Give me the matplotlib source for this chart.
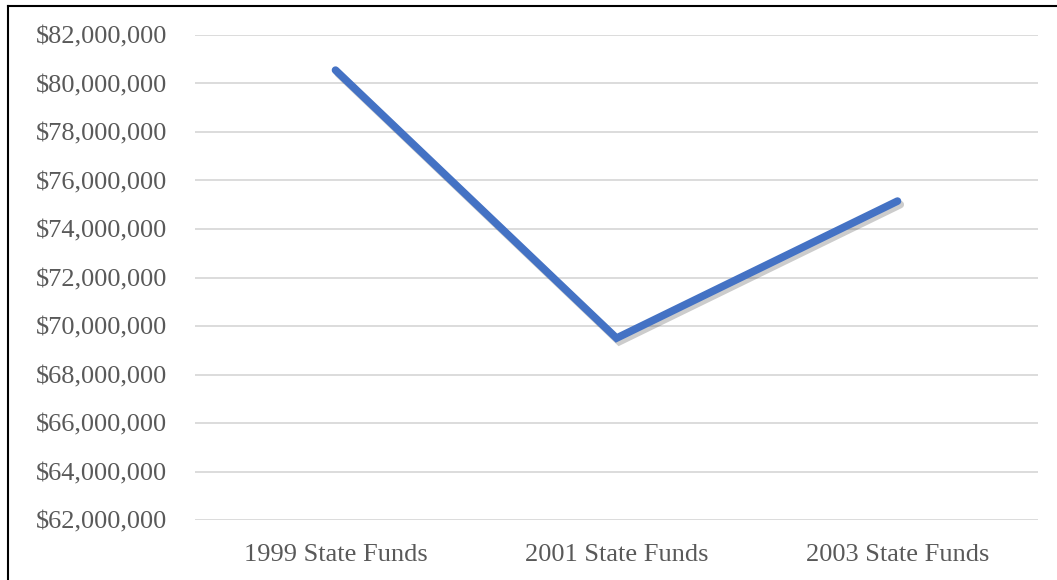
import matplotlib
matplotlib.use("Agg")
import matplotlib.pyplot as plt
import matplotlib.patheffects as pe
from matplotlib.ticker import FuncFormatter, MultipleLocator
from matplotlib.lines import Line2D

# data
categories = ['1999 State Funds', '2001 State Funds', '2003 State Funds']
funds = [80550000, 69500000, 75150000]

plt.rcParams['font.family'] = ['Liberation Serif', 'DejaVu Serif']

fig = plt.figure(figsize=(10.57, 5.8), dpi=100)
ax = fig.add_axes([0.1845, 0.1034, 0.7975, 0.8363])

x = range(len(categories))
ax.plot(x, funds, color='#4472C4', lw=5.5, solid_capstyle='round', solid_joinstyle='miter',
        path_effects=[pe.SimpleLineShadow(offset=(2, -2.5), shadow_color='#000000', alpha=0.2),
                      pe.Normal()], zorder=3)

ax.set_xlim(-0.5, 2.5)
ax.set_ylim(62000000, 82000000)
ax.yaxis.set_major_locator(MultipleLocator(2000000))
ax.yaxis.set_major_formatter(FuncFormatter(lambda v, p: f'${v:,.0f}'))
ax.set_xticks(list(x))
ax.set_xticklabels(categories)
ax.grid(axis='y', color='#d9d9d9', lw=1.3)
ax.set_axisbelow(True)
for s in ax.spines.values():
    s.set_visible(False)
ax.tick_params(length=0, labelsize=19, colors='#595959')
ax.tick_params(axis='y', pad=20)
ax.tick_params(axis='x', pad=17)

# border on top and left edge
fig.add_artist(Line2D([0.0076, 1.0], [0.9897, 0.9897], color='black', lw=1.5, transform=fig.transFigure))
fig.add_artist(Line2D([0.0076, 0.0076], [0.0, 0.9897], color='black', lw=1.5, transform=fig.transFigure))

fig.savefig('out.png', dpi=100)
